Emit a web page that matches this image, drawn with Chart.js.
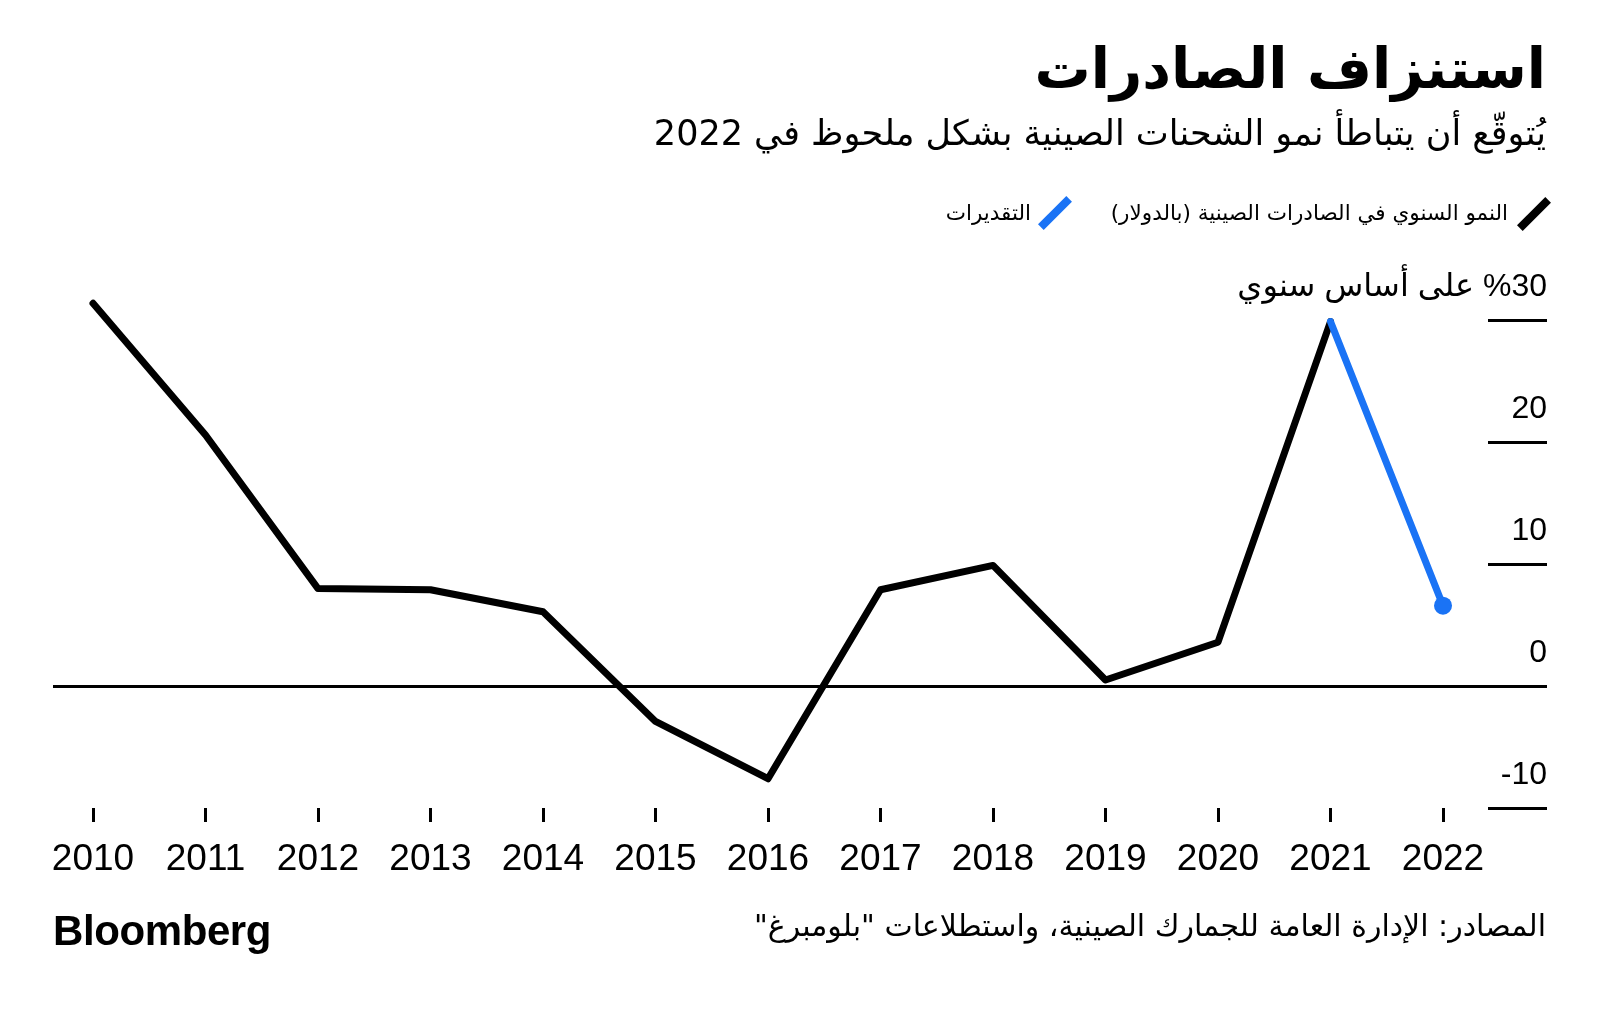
<!DOCTYPE html>
<html lang="ar">
<head>
<meta charset="utf-8">
<title>استنزاف الصادرات</title>
<script src="https://cdn.jsdelivr.net/npm/chart.js@4.4.1/dist/chart.umd.min.js"></script>
<style>
  html, body { margin: 0; padding: 0; background: #fff; }
  body { width: 1600px; height: 1009px; position: relative; overflow: hidden;
         font-family: "DejaVu Sans", sans-serif; color: #000; }
  #chart { position: absolute; left: 0; top: 0; }
  .txt { position: absolute; white-space: nowrap; line-height: 1; }
  .rtl { direction: rtl; }
  #title { right: 54px; top: 41px; font-size: 56px; font-weight: bold; }
  #subtitle { right: 54px; top: 116px; font-size: 35px; }
  #leg1 { right: 92px; top: 202px; font-size: 21.5px; }
  #leg2 { right: 569px; top: 202px; font-size: 21.5px; }
  .slash { position: absolute; width: 40px; height: 8px; transform: rotate(-45deg); }
  #icon1 { left: 1514px; top: 210px; background: #000; }
  #icon2 { left: 1035px; top: 209px; background: #1a73f5; }
  #source { right: 54px; top: 911px; font-size: 30px; }
  #logo { left: 53px; top: 910px; font-family: "Liberation Sans", Arial, sans-serif;
          font-weight: bold; font-size: 42px; letter-spacing: -0.4px; }
</style>
</head>
<body>
<canvas id="chart" width="1600" height="1009"></canvas>
<div id="title" class="txt rtl">استنزاف الصادرات</div>
<div id="subtitle" class="txt rtl">يُتوقّع أن يتباطأ نمو الشحنات الصينية بشكل ملحوظ في 2022</div>
<span id="icon1" class="slash"></span>
<div id="leg1" class="txt rtl">النمو السنوي في الصادرات الصينية (بالدولار)</div>
<span id="icon2" class="slash"></span>
<div id="leg2" class="txt rtl">التقديرات</div>
<div id="source" class="txt rtl">المصادر: الإدارة العامة للجمارك الصينية، واستطلاعات "بلومبرغ"</div>
<div id="logo" class="txt">Bloomberg</div>
<script>
(function () {
  "use strict";

  // Valores (% a/a)
  var YEARS = [2010, 2011, 2012, 2013, 2014, 2015, 2016, 2017, 2018, 2019, 2020, 2021];
  var GROWTH = [31.4, 20.6, 8.0, 7.9, 6.1, -2.9, -7.6, 7.9, 9.9, 0.5, 3.6, 29.9];
  var EST_YEARS = [2021, 2022];
  var ESTIMATE = [29.9, 6.6];
  var X_TICKS = [2010, 2011, 2012, 2013, 2014, 2015, 2016, 2017, 2018, 2019, 2020, 2021, 2022];
  var Y_TICKS = [-10, 0, 10, 20, 30];
  var Y_TOP_LABEL = "\u202B%30 على أساس سنوي\u202C";

  var BLACK = "#000000";
  var BLUE = "#1a73f5";
  var NUM_FONT = '"Liberation Sans", Arial, "DejaVu Sans", sans-serif';

  function pontos(xs, ys) {
    return xs.map(function (x, i) { return { x: x, y: ys[i] }; });
  }

  new Chart(document.getElementById("chart"), {
    type: "line",
    data: {
      datasets: [
        {
          label: "التقديرات",
          data: pontos(EST_YEARS, ESTIMATE),
          borderColor: BLUE,
          backgroundColor: BLUE,
          borderWidth: 7,
          borderCapStyle: "round",
          borderJoinStyle: "round",
          pointRadius: [0, 9],
          pointBorderWidth: 0,
          pointBackgroundColor: BLUE,
          clip: false
        },
        {
          label: "النمو السنوي في الصادرات الصينية (بالدولار)",
          data: pontos(YEARS, GROWTH),
          borderColor: BLACK,
          borderWidth: 7,
          borderCapStyle: "round",
          borderJoinStyle: "round",
          pointRadius: 0,
          clip: false
        }
      ]
    },
    options: {
      responsive: false,
      animation: false,
      layout: { padding: { left: 53, right: 53, top: 296, bottom: 121 } },
      plugins: { legend: { display: false }, tooltip: { enabled: false } },
      scales: {
        x: {
          type: "linear",
          min: 2009.6444,
          max: 2022.4,
          afterBuildTicks: function (s) { s.ticks = X_TICKS.map(function (v) { return { value: v }; }); },
          afterFit: function (s) { s.height = 80; },
          border: { display: false },
          grid: { drawOnChartArea: false, drawTicks: true, tickLength: 14, tickWidth: 3, tickColor: BLACK },
          ticks: {
            autoSkip: false, maxRotation: 0, padding: 16, color: BLACK,
            font: { family: NUM_FONT, size: 37 },
            callback: function (v) { return String(v); }
          }
        },
        y: {
          position: "right",
          min: -10,
          max: 32,
          afterBuildTicks: function (s) { s.ticks = Y_TICKS.map(function (v) { return { value: v }; }); },
          afterFit: function (s) { s.width = 59; },
          border: { display: false },
          grid: {
            lineWidth: 3,
            color: function (c) { return c.tick && c.tick.value === 0 ? BLACK : "rgba(0,0,0,0)"; },
            drawTicks: true, tickLength: 59, tickWidth: 3, tickColor: BLACK
          },
          ticks: {
            autoSkip: false, mirror: true, crossAlign: "near", labelOffset: -33, padding: 59, color: BLACK,
            font: { family: NUM_FONT, size: 32 },
            callback: function (v) { return v === 30 ? Y_TOP_LABEL : String(v); }
          }
        }
      }
    }
  });
})();
</script>
</body>
</html>
